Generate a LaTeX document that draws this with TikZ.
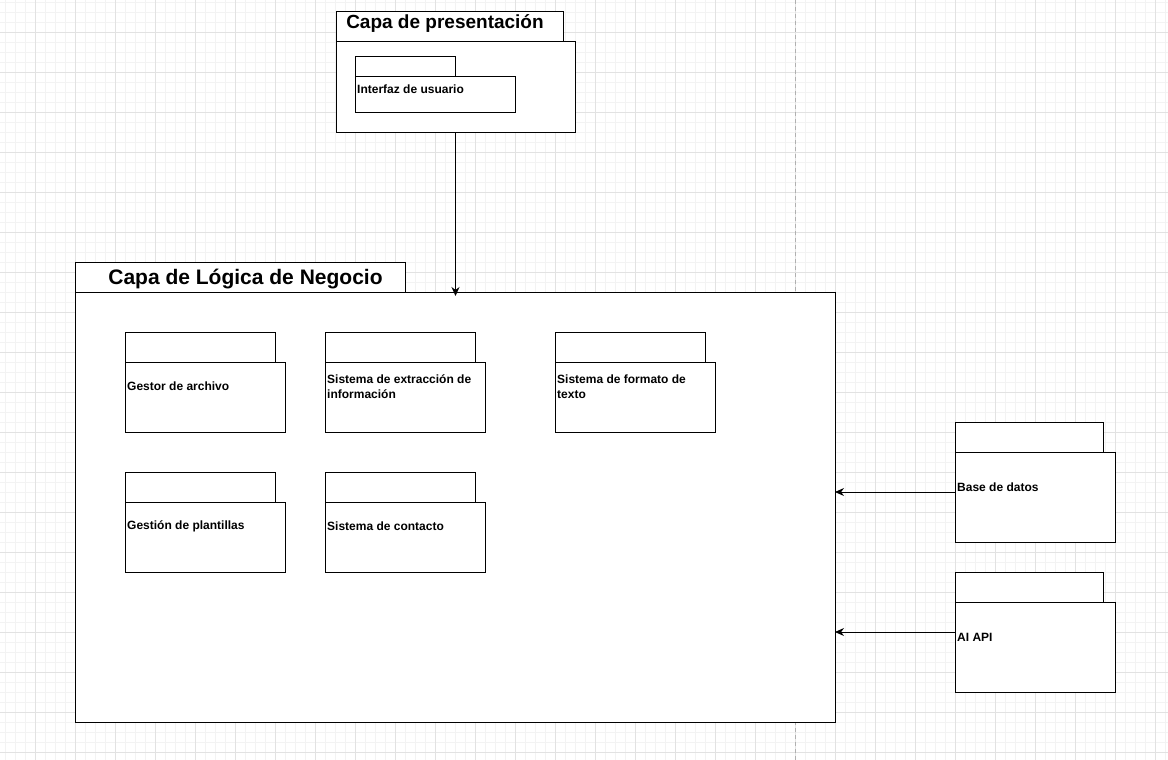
\documentclass[tikz,border=0pt]{standalone}
\usepackage{fontspec}
\setmainfont{Liberation Sans}
\usetikzlibrary{arrows.meta}
\definecolor{gridminor}{HTML}{F3F3F3}
\definecolor{gridmajor}{HTML}{E2E2E2}
\definecolor{pagebrk}{HTML}{B0B0B0}
\begin{document}
\begin{tikzpicture}[x=1pt,y=-1pt,
  pkg/.style={draw=black, fill=white, line width=1pt, anchor=north west, inner sep=0pt, outer sep=0pt},
  lbl/.style={anchor=west, inner sep=0pt, font=\fontsize{12}{15}\selectfont\bfseries, align=left},
  ttl/.style={inner sep=0pt, font=\fontsize{19}{22}\selectfont\bfseries},
  bigttl/.style={inner sep=0pt, font=\fontsize{21}{24}\selectfont\bfseries},
  conn/.style={draw=black, line width=1pt, -{Stealth[length=9pt,width=8pt]}}]
\useasboundingbox (0,0) rectangle (1168,760);
\fill[white] (0,0) rectangle (1168,760);
% grid
\foreach \x in {5,15,...,1165} \draw[gridminor, line width=0.8pt] (\x,0) -- (\x,760);
\foreach \y in {2,12,...,752} \draw[gridminor, line width=0.8pt] (0,\y) -- (1168,\y);
\foreach \x in {35,75,...,1155} \draw[gridmajor, line width=0.8pt] (\x,0) -- (\x,760);
\foreach \y in {32,72,...,752} \draw[gridmajor, line width=0.8pt] (0,\y) -- (1168,\y);
% page break
\draw[pagebrk, line width=0.8pt, dash pattern=on 4pt off 3pt] (795,0) -- (795,760);

% Capa de presentacion
\node[pkg, minimum width=227pt, minimum height=30pt] (prestab) at (336,12) {};
\node[pkg, minimum width=239pt, minimum height=90pt] (presbody) at (336,42) {};
\node[ttl] (prestitle) at (445,24) {Capa de presentación};
\node[pkg, minimum width=100pt, minimum height=20pt] (uitab) at (355,57) {};
\node[pkg, minimum width=160pt, minimum height=35pt] (uibody) at (355,77) {};
\node[lbl] (uitext) at (357,89.5) {Interfaz de usuario};

% Capa de logica
\node[pkg, minimum width=330pt, minimum height=30pt] (logtab) at (75,262) {};
\node[pkg, minimum width=760pt, minimum height=430pt] (logbody) at (75,292) {};
\node[bigttl] (logtitle) at (245.5,279) {Capa de Lógica de Negocio};

% inner packages
\node[pkg, minimum width=150pt, minimum height=30pt] (gatab) at (125,332) {};
\node[pkg, minimum width=160pt, minimum height=70pt] (gabody) at (125,362) {};
\node[lbl] (gatext) at (127,386.5) {Gestor de archivo};

\node[pkg, minimum width=150pt, minimum height=30pt] (setab) at (325,332) {};
\node[pkg, minimum width=160pt, minimum height=70pt] (sebody) at (325,362) {};
\node[lbl] (setext) at (327,387) {Sistema de extracción de\\información};

\node[pkg, minimum width=150pt, minimum height=30pt] (sftab) at (555,332) {};
\node[pkg, minimum width=160pt, minimum height=70pt] (sfbody) at (555,362) {};
\node[lbl] (sftext) at (557,387) {Sistema de formato de\\texto};

\node[pkg, minimum width=150pt, minimum height=30pt] (gptab) at (125,472) {};
\node[pkg, minimum width=160pt, minimum height=70pt] (gpbody) at (125,502) {};
\node[lbl] (gptext) at (127,526.5) {Gestión de plantillas};

\node[pkg, minimum width=150pt, minimum height=30pt] (sctab) at (325,472) {};
\node[pkg, minimum width=160pt, minimum height=70pt] (scbody) at (325,502) {};
\node[lbl] (sctext) at (327,526.5) {Sistema de contacto};

% external
\node[pkg, minimum width=148pt, minimum height=30pt] (dbtab) at (955,422) {};
\node[pkg, minimum width=160pt, minimum height=90pt] (dbbody) at (955,452) {};
\node[lbl] (dbtext) at (957,487.5) {Base de datos};

\node[pkg, minimum width=148pt, minimum height=30pt] (aitab) at (955,572) {};
\node[pkg, minimum width=160pt, minimum height=90pt] (aibody) at (955,602) {};
\node[lbl] (aitext) at (957,637.5) {AI API};

% connectors
\draw[conn] (presbody.south) -- ([yshift=-4pt]presbody.south |- logbody.north);
\draw[conn] ([yshift=5pt]dbbody.west) -- ([yshift=5pt]dbbody.west -| logbody.east);
\draw[conn] ([yshift=15pt]aibody.west) -- ([yshift=15pt]aibody.west -| logbody.east);
\end{tikzpicture}
\end{document}
